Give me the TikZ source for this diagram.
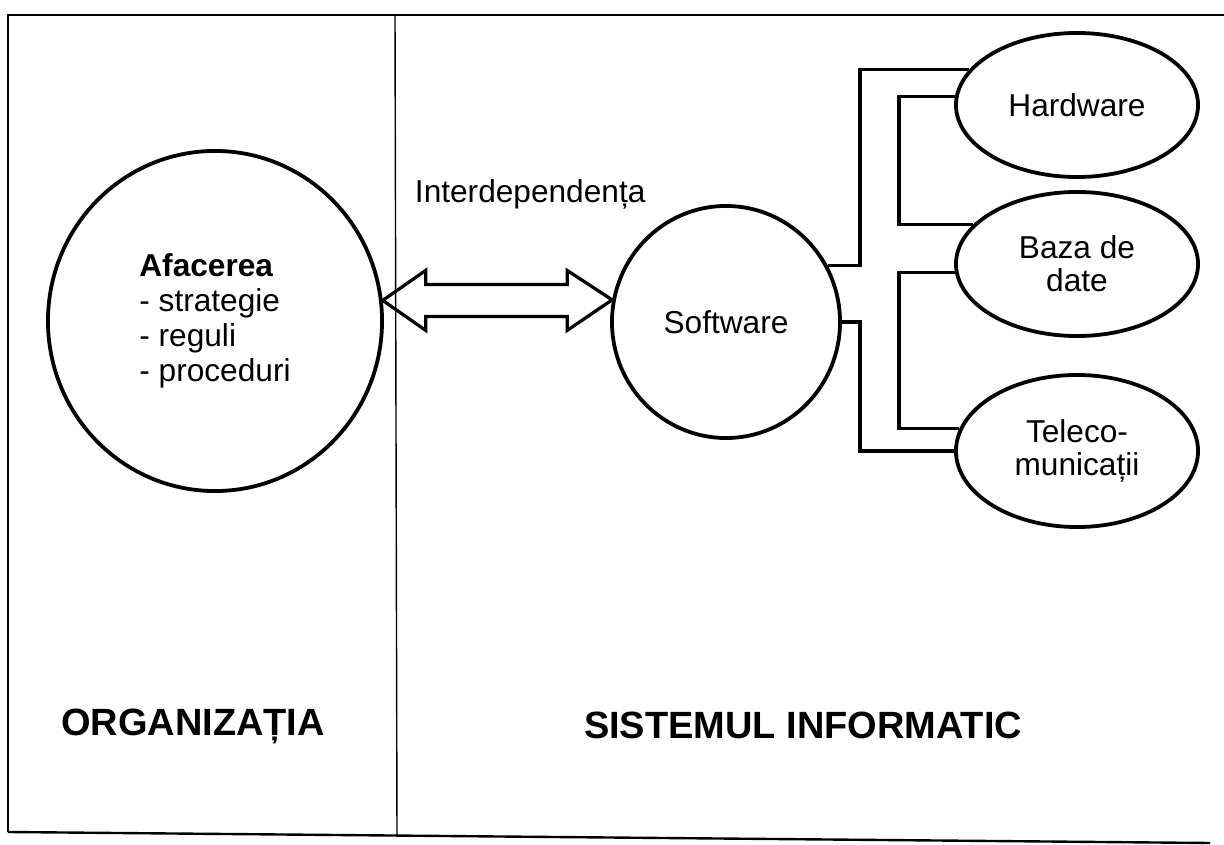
\documentclass[tikz,border=0pt]{standalone}
\usepackage{fontspec}
\setmainfont{Liberation Sans}
\usetikzlibrary{shapes.geometric,calc}
\begin{document}
\begin{tikzpicture}[x=0.025cm,y=-0.025cm,
  oval/.style={draw,ellipse,line width=2.7pt,inner sep=0pt,align=center,
    font=\fontsize{22.5}{23.5}\selectfont},
  conn/.style={line width=2.3pt,line join=miter},
  framel/.style={line width=1.7pt},
  lbl/.style={font=\fontsize{22.5}{25}\selectfont},
  biglbl/.style={font=\bfseries\fontsize{27}{30}\selectfont}]
\useasboundingbox (0,0) rectangle (1224,845);

% frame
\draw[framel] (8,832) -- (8,15) -- (1224,15);
\draw[framel] (8,832) -- (1210,843);
\draw[line width=1pt] (395,15) -- (397,837);

% nodes
\node[oval,minimum width=8.35cm,minimum height=8.5cm,align=left,
  font=\fontsize{22.5}{25}\selectfont] (afa) at (215,321)
  {\textbf{Afacerea}\\- strategie\\- reguli\\- proceduri};
\node[oval,minimum width=5.7cm,minimum height=5.8cm] (soft) at (726,322) {Software};
\node[oval,minimum width=6.05cm,minimum height=3.6cm] (hw) at (1077,105) {Hardware};
\node[oval,minimum width=6.05cm,minimum height=3.6cm] (bd) at (1077,264) {Baza de\\date};
\node[oval,minimum width=6.05cm,minimum height=3.8cm] (tc) at (1077,451) {Teleco-\\municații};

\node[lbl,anchor=base west] (int) at (410,203) {Interdependența};
\node[biglbl,anchor=base] (org) at (193,735) {ORGANIZAȚIA};
\node[biglbl,anchor=base] (sis) at (803,738) {SISTEMUL INFORMATIC};

% connectors
\coordinate (vo) at (860,0);
\coordinate (vi) at (899,0);
\draw[conn] (soft.29) -- (soft.29 -| vo) -- (vo |- hw.162) -- (hw.162);
\draw[conn] (soft.east) -- (soft.east -| vo) -- (vo |- tc.west) -- (tc.west);
\draw[conn] (hw.176) -- (hw.176 -| vi) -- (vi |- bd.159) -- (bd.159);
\draw[conn] (bd.184) -- (bd.184 -| vi) -- (vi |- tc.169) -- (tc.169);

% double arrow
\coordinate (L) at (afa.7);
\coordinate (R) at (soft.169);
\draw[line width=2.3pt,line join=miter]
  (L) -- ++(43,-30) -- ++(0,14) -- ($(R |- L)+(-45,-16)$) -- ++(0,-14) -- (R)
  -- ($(R |- L)+(-45,30)$) -- ++(0,-14) -- ($(L)+(43,16)$) -- ++(0,14) -- cycle;
\end{tikzpicture}
\end{document}
